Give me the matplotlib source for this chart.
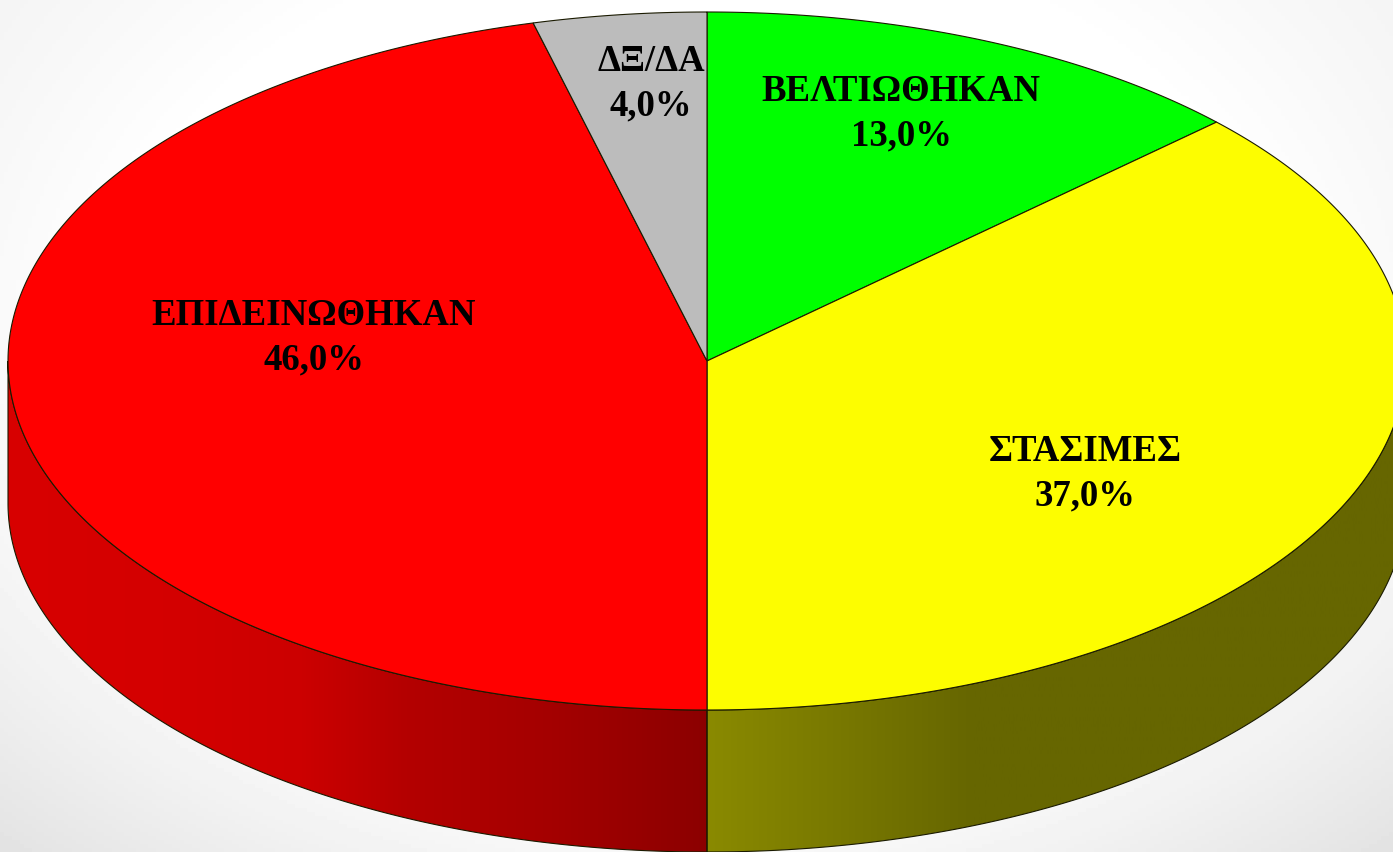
import numpy as np
import matplotlib
matplotlib.use("Agg")
import matplotlib.pyplot as plt
from matplotlib.patches import Polygon
from matplotlib.colors import LinearSegmentedColormap

categories = ["ΒΕΛΤΙΩΘΗΚΑΝ", "ΣΤΑΣΙΜΕΣ", "ΕΠΙΔΕΙΝΩΘΗΚΑΝ", "ΔΞ/ΔΑ"]
values = [13.0, 37.0, 46.0, 4.0]
colors = ["#00ff00", "#fdfd00", "#ff0000", "#bcbcbc"]
label_pos = [(901, 114), (1085, 474), (314, 338), (651, 84)]

W, H = 1393, 852
CX, CY, RX, RY, DEPTH = 707, 361, 699, 349, 142
EDGE = "#1a1a00"

fig = plt.figure(figsize=(W / 100, H / 100), dpi=100)
ax = fig.add_axes([0, 0, 1, 1])
ax.set_xlim(0, W)
ax.set_ylim(H, 0)
ax.axis("off")

# background: soft vignette
yy, xx = np.mgrid[0:H:4, 0:W:4]
d = np.hypot((xx - W * 0.5) / (W * 0.5), (yy - H * 0.42) / (H * 0.58))
g = np.clip((d - 0.85) / 0.55, 0, 1)
bg = 1.0 - 0.11 * g * (0.55 + 0.45 * (yy / H))
ax.imshow(bg, extent=(0, W, H, 0), cmap="gray", vmin=0, vmax=1, aspect="auto", zorder=0)


def ell(theta, dy=0.0):
    """theta: radians clockwise from the top."""
    return CX + RX * np.sin(theta), CY - RY * np.cos(theta) + dy


fractions = np.array(values) / sum(values)
edges = np.concatenate([[0], np.cumsum(fractions)]) * 2 * np.pi


def wall(t0, t1, cmap, extent_x):
    ts = np.linspace(t0, t1, 300)
    x0, y0 = ell(ts)
    x1, y1 = ell(ts[::-1], DEPTH)
    verts = np.column_stack([np.r_[x0, x1], np.r_[y0, y1]])
    grad = np.linspace(0, 1, 512).reshape(1, -1)
    im = ax.imshow(grad, extent=(extent_x[0], extent_x[1], H, 0), cmap=cmap,
                   aspect="auto", zorder=1)
    poly = Polygon(verts, closed=True, facecolor="none", edgecolor=EDGE, lw=0.8, zorder=2)
    ax.add_patch(poly)
    im.set_clip_path(poly)


red_wall = LinearSegmentedColormap.from_list(
    "rw", [(0, "#d80000"), (0.22, "#d40000"), (0.42, "#cc0000"), (0.57, "#b40000"),
           (0.78, "#a40000"), (1, "#8c0000")])
yel_wall = LinearSegmentedColormap.from_list(
    "yw", [(0, "#8a8a00"), (0.38, "#666600"), (1, "#666600")])

# visible sides: yellow up to the bottom, red from the bottom to the left extreme
wall(np.pi / 2, np.pi, yel_wall, (CX, CX + RX))
wall(np.pi, 3 * np.pi / 2, red_wall, (CX - RX, CX))

# top slices
for v0, v1, c in zip(edges[:-1], edges[1:], colors):
    ts = np.linspace(v0, v1, 300)
    x, y = ell(ts)
    verts = np.column_stack([np.r_[CX, x], np.r_[CY, y]])
    ax.add_patch(Polygon(verts, closed=True, facecolor=c, edgecolor=EDGE, lw=0.8, zorder=3))

for name, v, (lx, ly) in zip(categories, values, label_pos):
    ax.text(lx, ly, f"{name}\n{v:.1f}%".replace(".", ","), ha="center", va="center",
            family="Liberation Serif", weight="bold", fontsize=26.5, color="black",
            linespacing=1.36, zorder=5)

ax.set_xlim(0, W)
ax.set_ylim(H, 0)
fig.savefig("out.png", dpi=100)
